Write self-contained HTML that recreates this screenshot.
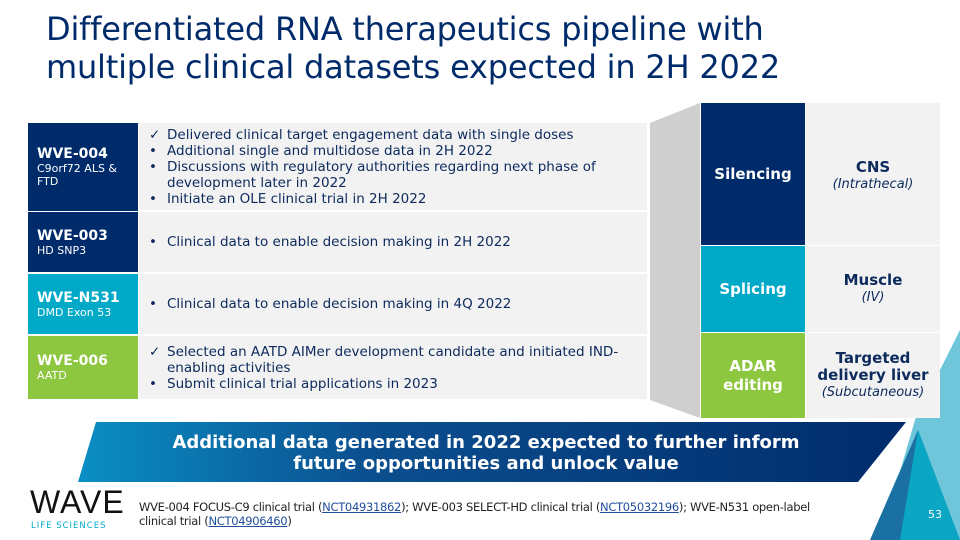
<!DOCTYPE html>
<html><head><meta charset="utf-8"><style>
*{margin:0;padding:0;box-sizing:border-box}
body{width:960px;height:540px;overflow:hidden;background:#fff;font-family:"DejaVu Sans","Liberation Sans",sans-serif;position:relative}
.abs{position:absolute}
h1{position:absolute;left:46px;top:10px;font-size:32px;line-height:38px;font-weight:normal;color:#002b6b;white-space:nowrap;letter-spacing:-0.2px}
.lab{position:absolute;left:28px;width:110px;color:#fff;padding-left:9px;display:flex;flex-direction:column;justify-content:center}
.lab b{font-size:14px}
.lab span{font-size:11px;line-height:13px}
.txt{position:absolute;left:139px;width:508px;background:#f2f2f2;color:#0c2a5c;font-size:13.5px;line-height:16px;display:flex;flex-direction:column;justify-content:center;padding-left:8px}
.li{padding-left:20px;position:relative}
.li i{position:absolute;left:2px;font-style:normal}
.rc{position:absolute;display:flex;flex-direction:column;justify-content:center;align-items:center;text-align:center}
.mod{left:701px;width:104px;color:#fff;font-weight:bold;font-size:15px;line-height:19px}
.org{left:806px;width:134px;background:#f2f2f2;color:#0c2a5c;font-weight:bold;font-size:15px;line-height:17px}
.org em{font-weight:normal;font-size:13px}
</style></head><body>
<h1>Differentiated RNA therapeutics pipeline with<br>multiple clinical datasets expected in 2H 2022</h1>

<div class="lab" style="top:123px;height:88px;background:#002b6b"><b>WVE-004</b><span>C9orf72 ALS &amp;<br>FTD</span></div>
<div class="txt" style="top:123px;height:87px">
<div class="li"><i>✓</i>Delivered clinical target engagement data with single doses</div>
<div class="li"><i>•</i>Additional single and multidose data in 2H 2022</div>
<div class="li"><i>•</i>Discussions with regulatory authorities regarding next phase of development later in 2022</div>
<div class="li"><i>•</i>Initiate an OLE clinical trial in 2H 2022</div></div>

<div class="lab" style="top:212px;height:60px;background:#002b6b"><b>WVE-003</b><span>HD SNP3</span></div>
<div class="txt" style="top:212px;height:60px"><div class="li"><i>•</i>Clinical data to enable decision making in 2H 2022</div></div>

<div class="lab" style="top:274px;height:60px;background:#00a9c7"><b>WVE-N531</b><span>DMD Exon 53</span></div>
<div class="txt" style="top:274px;height:60px"><div class="li"><i>•</i>Clinical data to enable decision making in 4Q 2022</div></div>

<div class="lab" style="top:336px;height:63px;background:#8dc63f"><b>WVE-006</b><span>AATD</span></div>
<div class="txt" style="top:336px;height:63px">
<div class="li"><i>✓</i>Selected an AATD AIMer development candidate and initiated IND-enabling activities</div>
<div class="li"><i>•</i>Submit clinical trial applications in 2023</div></div>

<svg class="abs" style="left:0;top:0" width="960" height="540">
<defs><linearGradient id="bg" x1="0" x2="1" y1="0" y2="0"><stop offset="0" stop-color="#0a8fc4"/><stop offset="0.35" stop-color="#0b4f8f"/><stop offset="1" stop-color="#002b6b"/></linearGradient></defs>
<polygon points="650,123 700,103 700,418 650,400" fill="#cfcfcf"/>
<polygon points="960,330 960,540 870,540" fill="#a7dde9"/>
<polygon points="915,420 960,330 960,540 880,540" fill="#6fc6db"/>
<polygon points="918,430 870,540 960,540" fill="#1a6fa3"/>
<polygon points="918,430 960,540 900,540" fill="#0aa6c4"/>
</svg>

<div class="rc mod" style="top:103px;height:142px;background:#002b6b">Silencing</div>
<div class="rc mod" style="top:246px;height:86px;background:#00a9c7">Splicing</div>
<div class="rc mod" style="top:333px;height:85px;background:#8dc63f">ADAR<br>editing</div>
<div class="rc org" style="top:103px;height:142px;justify-content:flex-start;padding-top:56px">CNS<em>(Intrathecal)</em></div>
<div class="rc org" style="top:246px;height:86px">Muscle<em>(IV)</em></div>
<div class="rc org" style="top:333px;height:85px">Targeted<br>delivery liver<em>(Subcutaneous)</em></div>

<svg class="abs" style="left:0;top:0" width="960" height="540">
<polygon points="96,422 906,422 858,482 78,482" fill="url(#bg)"/></svg>
<div class="abs" style="left:86px;top:432px;width:800px;text-align:center;color:#fff;font-weight:bold;font-size:18px;line-height:21px">Additional data generated in 2022 expected to further inform<br>future opportunities and unlock value</div>

<div class="abs" style="left:30px;top:484px;color:#111;font-size:32px;letter-spacing:1px;font-family:'Liberation Sans',sans-serif">WAVE</div>
<div class="abs" style="left:31px;top:521px;color:#00a9c7;font-size:8.5px;letter-spacing:1px">LIFE SCIENCES</div>
<div class="abs" style="left:139px;top:500px;width:700px;color:#222;font-size:11.5px;line-height:14px;letter-spacing:-0.3px">WVE-004 FOCUS-C9 clinical trial (<u style="color:#1f4e9c">NCT04931862</u>); WVE-003 SELECT-HD clinical trial (<u style="color:#1f4e9c">NCT05032196</u>); WVE-N531 open-label<br>clinical trial (<u style="color:#1f4e9c">NCT04906460</u>)</div>
<div class="abs" style="left:928px;top:508px;color:#fff;font-size:11px">53</div>
</body></html>
